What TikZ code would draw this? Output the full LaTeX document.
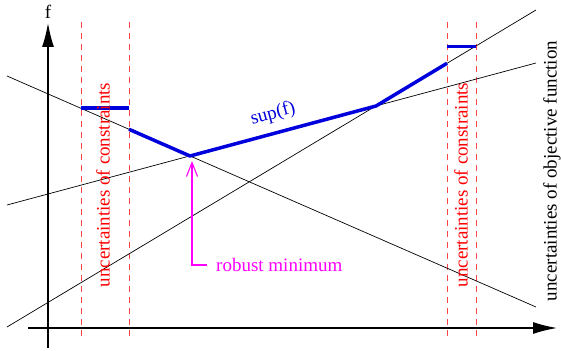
\documentclass[tikz,border=0pt]{standalone}
\usepackage{fontspec}
\setmainfont{Liberation Serif}
\usetikzlibrary{arrows.meta}
\definecolor{dashred}{RGB}{255,70,70}
\definecolor{supblue}{RGB}{0,0,220}
\definecolor{mag}{RGB}{255,0,255}
\begin{document}
\begin{tikzpicture}[x=1pt,y=-1pt,
  axis/.style={line width=1.3pt,-{Latex[length=24pt,width=12pt]}},
  thin/.style={line width=0.7pt},
  unc/.style={dashred,line width=0.9pt,dash pattern=on 6pt off 5pt},
  supl/.style={supblue,line width=3.5pt},
  lbl/.style={font=\rmfamily\fontsize{19}{22}\selectfont,inner sep=0pt}]
\useasboundingbox (0,0) rectangle (561,350);
% axes
\coordinate (yb) at (48,348); \coordinate (yt) at (48,23);
\coordinate (xl) at (28,328); \coordinate (xr) at (557,328);
\draw[axis] (yb) -- (yt);
\draw[axis] (xl) -- (xr);
\node[lbl] (f) at (48,12) {f};
% dashed uncertainty lines
\foreach \x/\n in {81/d1,129/d2,447/d3,476/d4}{
  \coordinate (\n t) at (\x,22); \coordinate (\n b) at (\x,340);
  \draw[unc] (\n t) -- (\n b);
}
% black lines
\coordinate (a1) at (7,76);  \coordinate (a2) at (536,307);
\coordinate (b1) at (7,205); \coordinate (b2) at (536,63);
\coordinate (c1) at (7,327); \coordinate (c2) at (536,10);
\draw[thin] (a1) -- (a2);
\draw[thin] (b1) -- (b2);
\draw[thin] (c1) -- (c2);
% sup(f)
\coordinate (s1) at (81,108); \coordinate (s2) at (129,108);
\coordinate (s3) at (129,129.3); \coordinate (rm) at (190,156);
\coordinate (s5) at (376,106); \coordinate (s6) at (447,63.3);
\coordinate (s7) at (447,46.5); \coordinate (s8) at (476,46.5);
\draw[supl] (s1) -- (s2);
\draw[supl,line join=round] (s3) -- (rm) -- (s5) -- (s6);
\draw[supl] (s7) -- (s8);
\node[lbl,text=supblue,rotate=15] (sup) at (273,114) {sup(f)};
% robust minimum
\coordinate (rma) at (192,161);
\coordinate (rmc) at (207,265);
\node[lbl,text=mag,anchor=west] (rml) at (216,265) {robust minimum};
\draw[draw=mag,line width=1.1pt,-{Straight Barb[length=14pt,width=11pt]}] (rmc) -- (rma |- rmc) -- (rma);
% texts
\node[lbl,text=red,rotate=90] (u1) at (103,185) {uncertainties of constraints};
\node[lbl,text=red,rotate=90] (u2) at (461,185) {uncertainties of constraints};
\node[lbl,rotate=90] (uo) at (552,171) {uncertainties of objective function};
\end{tikzpicture}
\end{document}
